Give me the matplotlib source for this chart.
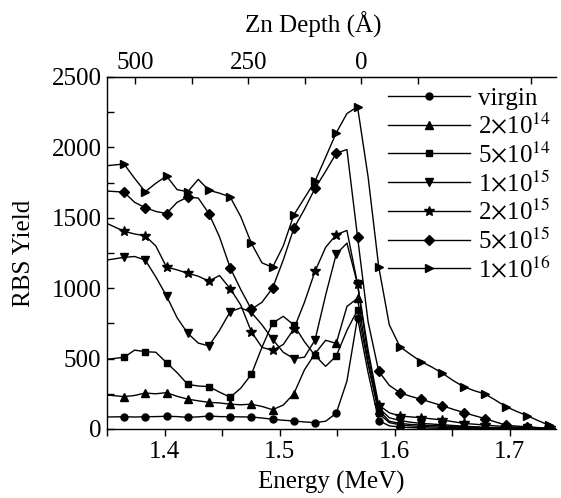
import numpy as np
import matplotlib.pyplot as plt

plt.rcParams['font.family'] = ['Liberation Serif', 'DejaVu Serif']
plt.rcParams['mathtext.fontset'] = 'stix'

# channel energies (MeV): first point at the axis edge, markers on every other point
energy = [1.3500, 1.3648, 1.3740, 1.3832, 1.3924, 1.4017, 1.4109, 1.4201, 1.4293,
          1.4385, 1.4477, 1.4570, 1.4662, 1.4754, 1.4846, 1.4938, 1.5031, 1.5123,
          1.5215, 1.5307, 1.5399, 1.5491, 1.5584, 1.5676, 1.5768, 1.5860, 1.5952,
          1.6044, 1.6136, 1.6229, 1.6321, 1.6413, 1.6505, 1.6597, 1.6690, 1.6782,
          1.6874, 1.6966, 1.7058, 1.7150, 1.7243, 1.7335, 1.7427]

virgin = [85, 87, 85, 87, 88, 90, 88, 83, 86, 92, 88, 87, 86, 85, 78, 69, 62, 57, 50, 45,
          55, 111, 340, 790, 400, 60, 22, 14, 10, 8, 6, 5, 4, 3, 2, 2, 1, 1, 0, 0, 0, 0, 0]
d2e14 = [241, 230, 238, 255, 250, 258, 232, 212, 200, 189, 185, 176, 172, 176, 160, 137,
         170, 250, 420, 535, 630, 608, 870, 928, 470, 135, 55, 40, 32, 28, 24, 22, 18, 15,
         12, 10, 8, 6, 4, 3, 2, 1, 0]
d5e14 = [495, 509, 560, 549, 545, 471, 400, 317, 305, 301, 262, 225, 290, 388, 580, 752,
         800, 739, 620, 522, 445, 518, 700, 845, 460, 111, 45, 30, 22, 18, 15, 13, 11, 9,
         7, 5, 4, 3, 2, 1, 1, 0, 0]
d1e15 = [1200, 1219, 1225, 1200, 1080, 945, 790, 680, 610, 590, 700, 833, 860, 828, 740,
         637, 545, 500, 510, 632, 950, 1242, 1320, 1030, 520, 150, 80, 60, 48, 40, 35, 30,
         25, 20, 16, 12, 10, 8, 6, 4, 3, 2, 1]
d2e15 = [1460, 1404, 1385, 1372, 1300, 1150, 1130, 1106, 1085, 1050, 1090, 997, 880, 691,
         580, 558, 600, 710, 900, 1120, 1290, 1380, 1410, 1030, 560, 170, 115, 92, 86, 80,
         72, 64, 52, 40, 34, 28, 22, 17, 13, 10, 7, 5, 3]
d5e15 = [1690, 1682, 1610, 1572, 1545, 1530, 1610, 1647, 1640, 1530, 1365, 1145, 990, 850,
         900, 1000, 1200, 1425, 1560, 1709, 1830, 1958, 1985, 1366, 760, 410, 310, 258, 232,
         211, 188, 165, 140, 117, 95, 74, 50, 27, 20, 16, 10, 5, 3]
d1e16 = [1870, 1882, 1780, 1685, 1745, 1797, 1700, 1685, 1773, 1695, 1675, 1648, 1508, 1319,
         1180, 1148, 1300, 1520, 1640, 1760, 1930, 2103, 2240, 2289, 1790, 1153, 740, 585,
         530, 478, 440, 396, 345, 300, 272, 249, 205, 158, 125, 94, 60, 28, 10]

labels = ['virgin', r'2$\times$10$^{14}$', r'5$\times$10$^{14}$', r'1$\times$10$^{15}$',
          r'2$\times$10$^{15}$', r'5$\times$10$^{15}$', r'1$\times$10$^{16}$']
series = [virgin, d2e14, d5e14, d1e15, d2e15, d5e15, d1e16]
markers = ['o', '^', 's', 'v', '*', 'D', '>']
msizes = [5, 6, 5, 6, 7.5, 5, 6]

depth_major = [500, 250, 0]
depth_minor = [375, 125, -125, -375]


def e_to_depth(e):
    return (1.5709 - np.asarray(e)) / 3.932e-4


def depth_to_e(d):
    return 1.5709 - 3.932e-4 * np.asarray(d)


fig = plt.figure(figsize=(5.61, 4.98), dpi=100)
ax = fig.add_axes([0.1907, 0.1386, 0.8004, 0.7068])

for y, lab, m, ms in zip(series, labels, markers, msizes):
    ax.plot(energy, y, color='black', lw=1.0, marker=m, ms=ms,
            markevery=slice(1, 42, 2), label=lab)

ax.set_xlim(1.35, 1.74)
ax.set_ylim(0, 2500)
ax.set_xticks([1.4, 1.5, 1.6, 1.7])
ax.set_xticks([1.35, 1.45, 1.55, 1.65], minor=True)
ax.set_yticks([0, 500, 1000, 1500, 2000, 2500])
ax.set_yticks([250, 750, 1250, 1750, 2250], minor=True)
ax.tick_params(axis='x', which='both', direction='out', length=5, width=1,
               labelsize=18, pad=4)
ax.tick_params(axis='y', which='both', direction='in', length=5, width=1,
               labelsize=18, pad=4)
ax.spines['right'].set_visible(False)
for s in ['left', 'bottom', 'top']:
    ax.spines[s].set_linewidth(1.0)

ax.set_xlabel('Energy (MeV)', fontsize=18, labelpad=5)
ax.set_ylabel('RBS Yield', fontsize=18, labelpad=12)

top = ax.secondary_xaxis('top', functions=(e_to_depth, depth_to_e))
top.set_xticks(depth_major)
top.set_xticks(depth_minor, minor=True)
top.tick_params(which='both', direction='in', length=5, width=1, labelsize=18, pad=2)
fig.text(313 / 561, 1 - 25 / 498, 'Zn Depth (Å)', fontsize=18,
         ha='center', va='center')

leg = ax.legend(loc='upper right', bbox_to_anchor=(1.0, 0.985), frameon=False,
                fontsize=18, handlelength=3.3, numpoints=1, handletextpad=0.3,
                labelspacing=0.12, borderaxespad=0.0, borderpad=0.2)

fig.savefig('out.png', dpi=100)
